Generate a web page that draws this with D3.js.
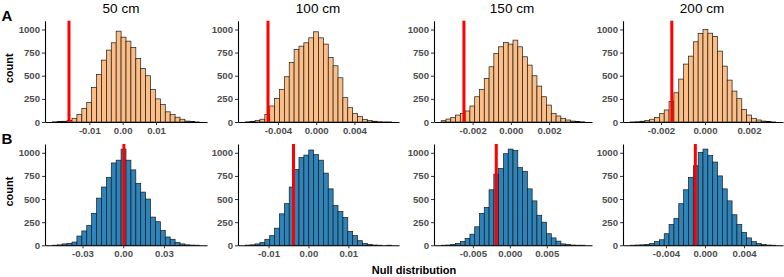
<!DOCTYPE html>
<html>
<head>
<meta charset="utf-8">
<script src="https://cdn.jsdelivr.net/npm/d3@7"></script>
<style>
  body { margin: 0; background: #fff; }
  svg { display: block; font-family: "Liberation Sans", Arial, sans-serif; }
</style>
</head>
<body>
<div id="chart"></div>
<script>
// column titles
const distances = ["50 cm", "100 cm", "150 cm", "200 cm"];

// histogram counts (30 bins), row A
const countsA50  = [2, 4, 8, 18, 40, 83, 147, 212, 374, 514, 669, 777, 856, 982, 917, 874, 806, 687, 579, 500, 350, 250, 190, 110, 80, 52, 30, 10, 4, 1];
const countsA100 = [2, 5, 15, 30, 80, 173, 255, 352, 489, 644, 784, 820, 856, 910, 975, 910, 842, 698, 608, 478, 263, 155, 94, 58, 29, 15, 8, 3, 1, 1];
const countsA150 = [14, 32, 50, 75, 94, 119, 173, 273, 352, 471, 597, 741, 813, 860, 842, 885, 813, 705, 615, 500, 388, 273, 183, 94, 65, 40, 22, 10, 5, 2];
const countsA200 = [1, 3, 8, 15, 30, 50, 90, 130, 220, 316, 464, 626, 712, 867, 957, 1000, 960, 925, 766, 604, 453, 334, 252, 137, 75, 40, 22, 10, 4, 1];

// row B
const countsB50  = [1, 5, 15, 20, 35, 100, 155, 215, 345, 510, 630, 735, 890, 920, 1040, 920, 815, 670, 575, 500, 305, 255, 160, 90, 65, 30, 15, 5, 2, 1];
const countsB100 = [2, 5, 15, 30, 65, 105, 185, 340, 450, 630, 820, 950, 975, 1030, 980, 920, 780, 610, 430, 365, 300, 150, 105, 50, 20, 8, 3, 1, 0, 1];
const countsB150 = [1, 3, 8, 20, 40, 75, 120, 200, 345, 410, 600, 770, 830, 990, 1040, 1025, 840, 800, 610, 480, 325, 250, 125, 80, 45, 15, 8, 3, 1, 1];
const countsB200 = [1, 3, 5, 10, 20, 40, 60, 125, 225, 290, 450, 600, 735, 860, 1005, 1040, 970, 900, 750, 610, 480, 330, 225, 140, 80, 40, 20, 8, 3, 1];

// first bin left edge / last bin right edge
const binRangeA = [[-0.02109, 0.02309], [-0.007414, 0.007904], [-0.003644, 0.003869], [-0.003394, 0.003213]];
const binRangeB = [[-0.05222, 0.05633], [-0.01582, 0.02085], [-0.009288, 0.010148], [-0.007655, 0.007245]];

// observed statistic (red line)
const observedA = [-0.0161, -0.00504, -0.002454, -0.001507];
const observedB = [0.0005, -0.00375, -0.00183, -0.00099];

// x tick values and labels
const xTicksA = [[-0.01, 0, 0.01], [-0.004, 0, 0.004], [-0.002, 0, 0.002], [-0.002, 0, 0.002]];
const xTickLabelsA = [["-0.01", "0.00", "0.01"], ["-0.004", "0.000", "0.004"], ["-0.002", "0.000", "0.002"], ["-0.002", "0.000", "0.002"]];
const xTicksB = [[-0.03, 0, 0.03], [-0.01, 0, 0.01], [-0.005, 0, 0.005], [-0.004, 0, 0.004]];
const xTickLabelsB = [["-0.03", "0.00", "0.03"], ["-0.01", "0.00", "0.01"], ["-0.005", "0.000", "0.005"], ["-0.004", "0.000", "0.004"]];

const yTicks = [0, 250, 500, 750, 1000];
const yMax = 1095;

const width = 784;
const height = 277;
const colLeft = [45, 238, 434, 623];
const colRight = [207, 399, 592, 783];
const titleX = [121, 318, 512, 702];

const rows = [
    { letter: "A", top: 20.7, bottom: 122, fill: "#FDBE85",
      counts: [countsA50, countsA100, countsA150, countsA200],
      bins: binRangeA, observed: observedA, ticks: xTicksA, labels: xTickLabelsA },
    { letter: "B", top: 144, bottom: 245.3, fill: "#2C84BB",
      counts: [countsB50, countsB100, countsB150, countsB200],
      bins: binRangeB, observed: observedB, ticks: xTicksB, labels: xTickLabelsB }
];

const svg = d3.select("#chart")
    .append("svg")
    .attr("width", width)
    .attr("height", height);

const styleAxis = (g) => {
    g.select(".domain").attr("stroke", "#000").attr("stroke-width", 1.1);
    g.selectAll(".tick line").attr("stroke", "#333").attr("stroke-width", 1);
    g.selectAll(".tick text")
        .attr("fill", "#4d4d4d")
        .style("font-size", "9.6px")
        .style("font-weight", "bold");
};

rows.forEach((row, r) => {
    row.counts.forEach((counts, c) => {
        const [lo, hi] = row.bins[c];
        const pad = (hi - lo) * 0.05;
        const x = d3.scaleLinear()
            .domain([lo - pad, hi + pad])
            .range([colLeft[c], colRight[c]]);
        const y = d3.scaleLinear()
            .domain([0, yMax])
            .range([row.bottom, row.top]);

        const binW = (hi - lo) / counts.length;
        const bins = counts.map((n, i) => ({ x0: lo + i * binW, x1: lo + (i + 1) * binW, n: n }));

        const g = svg.append("g");

        g.selectAll("rect")
            .data(bins.filter(d => d.n > 0))
            .enter()
            .append("rect")
            .attr("x", d => x(d.x0))
            .attr("width", d => x(d.x1) - x(d.x0))
            .attr("y", d => y(d.n))
            .attr("height", d => y(0) - y(d.n))
            .attr("fill", row.fill)
            .attr("stroke", "#1a1a1a")
            .attr("stroke-width", 0.7);

        g.append("line")
            .attr("x1", x(row.observed[c]))
            .attr("x2", x(row.observed[c]))
            .attr("y1", row.top)
            .attr("y2", row.bottom)
            .attr("stroke", "#FF0000")
            .attr("stroke-width", 3);

        g.append("g")
            .attr("transform", `translate(0,${row.bottom})`)
            .call(d3.axisBottom(x)
                .tickValues(row.ticks[c])
                .tickFormat((d, i) => row.labels[c][i])
                .tickSize(3)
                .tickSizeOuter(0)
                .tickPadding(2))
            .call(styleAxis);

        g.append("g")
            .attr("transform", `translate(${colLeft[c]},0)`)
            .call(d3.axisLeft(y)
                .tickValues(yTicks)
                .tickFormat(d3.format("d"))
                .tickSize(3)
                .tickSizeOuter(0)
                .tickPadding(2))
            .call(styleAxis);

        if (r === 0) {
            svg.append("text")
                .attr("x", titleX[c])
                .attr("y", 13.3)
                .attr("text-anchor", "middle")
                .style("font-size", "13.5px")
                .text(distances[c]);
        }
    });

    svg.append("text")
        .attr("x", 1.5)
        .attr("y", r === 0 ? 20.5 : 144)
        .style("font-size", "15px")
        .style("font-weight", "bold")
        .text(row.letter);

    const cy = (row.top + row.bottom) / 2 - 3;
    svg.append("text")
        .attr("transform", `translate(13,${cy}) rotate(-90)`)
        .attr("text-anchor", "middle")
        .style("font-size", "11px")
        .style("font-weight", "bold")
        .text("count");
});

svg.append("text")
    .attr("x", 414)
    .attr("y", 274)
    .attr("text-anchor", "middle")
    .style("font-size", "11px")
    .style("font-weight", "bold")
    .text("Null distribution");
</script>
</body>
</html>
